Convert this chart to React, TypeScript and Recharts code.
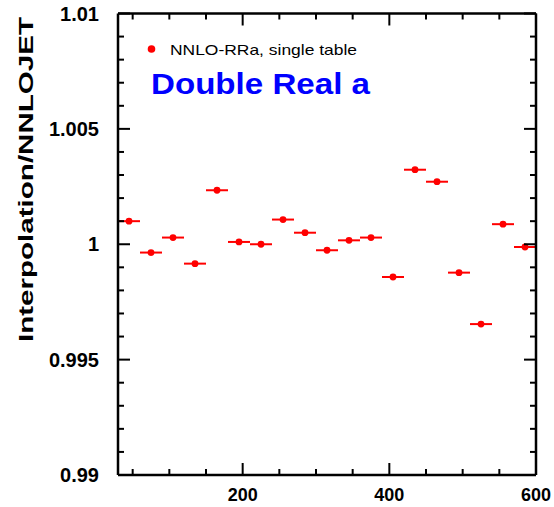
import { ComposedChart, Scatter, ErrorBar, XAxis, YAxis } from "recharts";

// bin edges in x, 30 wide from 30 to 600
const xEdges = [30, 60, 90, 120, 150, 180, 210, 240, 270, 300, 330, 360, 390, 420, 450, 480, 510, 540, 570, 600];

// interpolation / NNLOJET ratio per bin
const ratios = [
  1.001, 0.99964, 1.00029, 0.99916, 1.00234, 1.0001, 1.0, 1.00107, 1.0005, 0.99974,
  1.00017, 1.00029, 0.99858, 1.00323, 1.00271, 0.99877, 0.99654, 1.00087, 0.99988,
];

const xTicks = [50, 100, 150, 200, 250, 300, 350, 400, 450, 500, 550, 600];
const xLabels = [200, 400, 600];

const yTicks = [
  0.99, 0.991, 0.992, 0.993, 0.994, 0.995, 0.996, 0.997, 0.998, 0.999, 1.0,
  1.001, 1.002, 1.003, 1.004, 1.005, 1.006, 1.007, 1.008, 1.009, 1.01,
];
const yLabels = [0.99, 0.995, 1, 1.005, 1.01];

const data = ratios.map((r, i) => ({
  x: (xEdges[i] + xEdges[i + 1]) / 2,
  y: r,
  xErr: (xEdges[i + 1] - xEdges[i]) / 2,
}));

const FONT = "'Liberation Sans', Arial, Helvetica, sans-serif";
const MAJOR = 12;
const MINOR = 6;
const RED = "#ff0000";
const FRAME = { stroke: "#000", strokeWidth: 2.5 };

const isLabel = (list: number[], v: number) => list.some((l) => Math.abs(l - v) < 1e-9);

function BottomTick(props: any) {
  const { x, y, payload } = props;
  const major = isLabel(xLabels, payload.value);
  return (
    <g>
      <line x1={x} x2={x} y1={y} y2={y - (major ? MAJOR : MINOR)} stroke="#000" strokeWidth={2} />
      {major && (
        <text x={x} y={y + 26} textAnchor="middle" fontFamily={FONT} fontWeight="bold" fontSize={18} fill="#000">
          {payload.value}
        </text>
      )}
    </g>
  );
}

function TopTick(props: any) {
  const { x, y, payload } = props;
  const major = isLabel(xLabels, payload.value);
  return <line x1={x} x2={x} y1={y} y2={y + (major ? MAJOR : MINOR)} stroke="#000" strokeWidth={2} />;
}

function LeftTick(props: any) {
  const { x, y, payload } = props;
  const major = isLabel(yLabels, payload.value);
  return (
    <g>
      <line x1={x} x2={x + (major ? MAJOR : MINOR)} y1={y} y2={y} stroke="#000" strokeWidth={2} />
      {major && (
        <text x={x - 19} y={y + 7} textAnchor="end" fontFamily={FONT} fontWeight="bold" fontSize={20} fill="#000">
          {payload.value}
        </text>
      )}
    </g>
  );
}

function RightTick(props: any) {
  const { x, y, payload } = props;
  const major = isLabel(yLabels, payload.value);
  return <line x1={x} x2={x - (major ? MAJOR : MINOR)} y1={y} y2={y} stroke="#000" strokeWidth={2} />;
}

const Dot = (p: any) => <circle cx={p.cx} cy={p.cy} r={3.4} fill={RED} />;

export default function App() {
  return (
    <div style={{ position: "absolute", left: 0, top: 0, width: 554, height: 507, background: "#fff" }}>
      <ComposedChart width={554} height={507} data={data} margin={{ top: 12.5, right: 17, bottom: 0, left: 0 }}>
        <XAxis
          dataKey="x"
          type="number"
          domain={[30, 600]}
          ticks={xTicks}
          interval={0}
          height={32}
          tickSize={0}
          tickMargin={0}
          tickLine={false}
          axisLine={FRAME}
          tick={BottomTick}
          allowDataOverflow
        />
        <XAxis
          xAxisId="top"
          dataKey="x"
          orientation="top"
          type="number"
          domain={[30, 600]}
          ticks={xTicks}
          interval={0}
          height={1}
          tickSize={0}
          tickMargin={0}
          tickLine={false}
          axisLine={FRAME}
          tick={TopTick}
          allowDataOverflow
        />
        <YAxis
          type="number"
          domain={[0.99, 1.01]}
          ticks={yTicks}
          interval={0}
          width={118}
          tickSize={0}
          tickMargin={0}
          tickLine={false}
          axisLine={FRAME}
          tick={LeftTick}
          allowDataOverflow
        />
        <YAxis
          yAxisId="right"
          dataKey="y"
          orientation="right"
          type="number"
          domain={[0.99, 1.01]}
          ticks={yTicks}
          interval={0}
          width={1}
          tickSize={0}
          tickMargin={0}
          tickLine={false}
          axisLine={FRAME}
          tick={RightTick}
          allowDataOverflow
        />
        <Scatter dataKey="y" fill={RED} shape={Dot} isAnimationActive={false}>
          <ErrorBar dataKey="xErr" direction="x" width={0} stroke={RED} strokeWidth={2} isAnimationActive={false} />
        </Scatter>
      </ComposedChart>
      <svg width={554} height={507} style={{ position: "absolute", left: 0, top: 0, pointerEvents: "none" }}>
        <text
          transform="translate(33,179.5) rotate(-90)"
          textAnchor="middle"
          fontFamily={FONT}
          fontWeight="bold"
          fontSize={21}
          textLength={325}
          lengthAdjust="spacingAndGlyphs"
          fill="#000"
        >
          Interpolation/NNLOJET
        </text>
        <circle cx={151.5} cy={49} r={3.8} fill={RED} />
        <text x={170} y={55} fontFamily={FONT} fontSize={15} textLength={187} lengthAdjust="spacingAndGlyphs" fill="#000">
          NNLO-RRa, single table
        </text>
        <text
          x={151}
          y={93.5}
          fontFamily={FONT}
          fontWeight="bold"
          fontSize={29}
          textLength={219}
          lengthAdjust="spacingAndGlyphs"
          fill="#0000ff"
        >
          Double Real a
        </text>
      </svg>
    </div>
  );
}
